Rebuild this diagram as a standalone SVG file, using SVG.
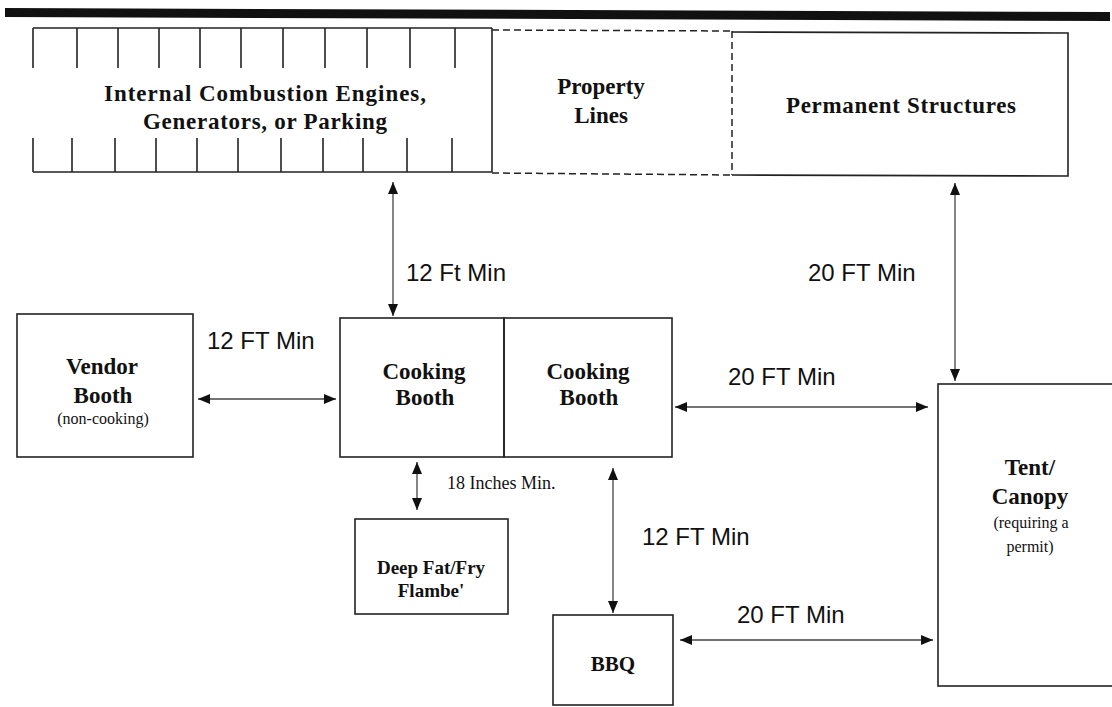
<svg xmlns="http://www.w3.org/2000/svg" width="1112" height="707" viewBox="0 0 1112 707">
<style>
.box{fill:none;stroke:#222;stroke-width:1.6}
.tick{stroke:#222;stroke-width:1.6}
.dash{fill:none;stroke:#222;stroke-width:1.5;stroke-dasharray:7 4}
.t{font-family:"Liberation Serif","Times New Roman",serif;font-weight:bold;font-size:23px;fill:#111;text-anchor:middle}
.s{font-family:"Liberation Serif","Times New Roman",serif;font-size:16px;fill:#111;text-anchor:middle}
.l{font-family:"Liberation Sans",Arial,sans-serif;font-size:24px;fill:#111}
.c{stroke:#444;stroke-width:1.3;fill:none;marker-start:url(#ah);marker-end:url(#ah)}
</style>
<defs>
<marker id="ah" viewBox="0 0 12 10" refX="12" refY="5" markerWidth="12" markerHeight="10" markerUnits="userSpaceOnUse" orient="auto-start-reverse">
<path d="M0,0 L12,5 L0,10 z" fill="#111"/>
</marker>
</defs>
<rect width="1112" height="707" fill="#fff"/>
<polygon points="5,8 1110,12 1110,21 5,17" fill="#111"/>

<g id="engines">
<line class="tick" x1="33" y1="28" x2="492" y2="28"/>
<line class="tick" x1="33" y1="172" x2="492" y2="172"/>
<line class="tick" x1="492" y1="28" x2="492" y2="172"/>
<line class="tick" x1="33" y1="28" x2="33" y2="68"/>
<line class="tick" x1="77" y1="28" x2="77" y2="68"/>
<line class="tick" x1="118" y1="28" x2="118" y2="68"/>
<line class="tick" x1="159" y1="28" x2="159" y2="68"/>
<line class="tick" x1="200" y1="28" x2="200" y2="68"/>
<line class="tick" x1="241" y1="28" x2="241" y2="68"/>
<line class="tick" x1="283" y1="28" x2="283" y2="68"/>
<line class="tick" x1="325" y1="28" x2="325" y2="68"/>
<line class="tick" x1="367" y1="28" x2="367" y2="68"/>
<line class="tick" x1="410" y1="28" x2="410" y2="68"/>
<line class="tick" x1="455" y1="28" x2="455" y2="68"/>
<line class="tick" x1="33" y1="138" x2="33" y2="172"/>
<line class="tick" x1="72" y1="138" x2="72" y2="172"/>
<line class="tick" x1="115" y1="138" x2="115" y2="172"/>
<line class="tick" x1="156" y1="138" x2="156" y2="172"/>
<line class="tick" x1="197" y1="138" x2="197" y2="172"/>
<line class="tick" x1="238" y1="138" x2="238" y2="172"/>
<line class="tick" x1="281" y1="138" x2="281" y2="172"/>
<line class="tick" x1="323" y1="138" x2="323" y2="172"/>
<line class="tick" x1="363" y1="138" x2="363" y2="172"/>
<line class="tick" x1="407" y1="138" x2="407" y2="172"/>
<line class="tick" x1="452" y1="138" x2="452" y2="172"/>
<text class="t" x="265" y="101" textLength="322">Internal Combustion Engines,</text>
<text class="t" x="265" y="129" textLength="244">Generators, or Parking</text>
</g>

<g id="property">
<line class="dash" x1="492" y1="30" x2="732" y2="31"/>
<line class="dash" x1="492" y1="173" x2="732" y2="175"/>
<line class="dash" x1="732" y1="31" x2="732" y2="175"/>
<text class="t" x="601" y="94">Property</text>
<text class="t" x="601" y="123">Lines</text>
</g>

<g id="permanent">
<polyline class="box" points="732,32 1068,33 1068,176 732,175"/>
<text class="t" x="901" y="113" textLength="230">Permanent Structures</text>
</g>

<g id="vendor">
<rect class="box" x="17" y="314" width="176" height="143"/>
<text class="t" x="102" y="374">Vendor</text>
<text class="t" x="103" y="403">Booth</text>
<text class="s" x="103" y="424">(non-cooking)</text>
</g>

<g id="cooking1">
<rect class="box" x="340" y="318" width="164" height="139"/>
<text class="t" x="424" y="379">Cooking</text>
<text class="t" x="425" y="405">Booth</text>
</g>

<g id="cooking2">
<rect class="box" x="504" y="318" width="168" height="139"/>
<text class="t" x="588" y="379">Cooking</text>
<text class="t" x="589" y="405">Booth</text>
</g>

<g id="deepfry">
<rect class="box" x="355" y="519" width="153" height="95"/>
<text class="t" x="431" y="574" style="font-size:19px">Deep Fat/Fry</text>
<text class="t" x="431" y="597" style="font-size:19px">Flambe'</text>
</g>

<g id="bbq">
<rect class="box" x="553" y="615" width="120" height="90"/>
<text class="t" x="613" y="671" style="font-size:21px">BBQ</text>
</g>

<g id="tent">
<rect class="box" x="938" y="384" width="190" height="302"/>
<text class="t" x="1030" y="475">Tent/</text>
<text class="t" x="1030" y="504">Canopy</text>
<text class="s" x="1031" y="528">(requiring a</text>
<text class="s" x="1030" y="552">permit)</text>
</g>

<g id="connectors">
<line class="c" x1="393" y1="182" x2="393" y2="316"/>
<line class="c" x1="955" y1="183" x2="955" y2="381"/>
<line class="c" x1="198" y1="399" x2="336" y2="399"/>
<line class="c" x1="675" y1="407" x2="928" y2="407"/>
<line class="c" x1="417" y1="462" x2="417" y2="510"/>
<line class="c" x1="613" y1="468" x2="613" y2="613"/>
<line class="c" x1="680" y1="640" x2="933" y2="640"/>
</g>

<g id="labels">
<text class="l" x="406" y="281">12 Ft Min</text>
<text class="l" x="808" y="281">20 FT Min</text>
<text class="l" x="207" y="349">12 FT Min</text>
<text class="l" x="728" y="385">20 FT Min</text>
<text class="l" x="642" y="545">12 FT Min</text>
<text class="l" x="737" y="623">20 FT Min</text>
<text class="s" x="447" y="489" style="text-anchor:start;font-size:18px">18 Inches Min.</text>
</g>
</svg>
